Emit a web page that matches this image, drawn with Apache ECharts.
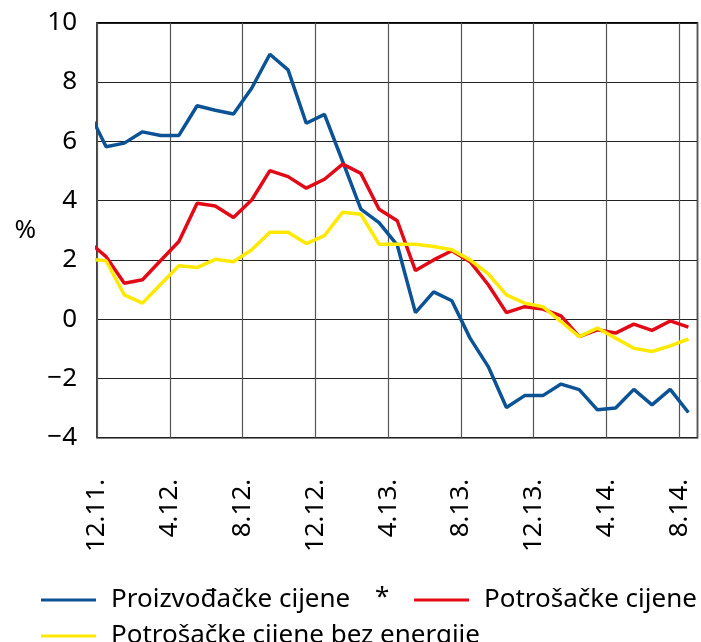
<!DOCTYPE html>
<html>
<head>
<meta charset="utf-8">
<script src="https://cdn.jsdelivr.net/npm/echarts@6/dist/echarts.min.js"></script>
<style>
  html, body { margin: 0; padding: 0; background: #fff; }
  #main { width: 701px; height: 642px; }
</style>
</head>
<body>
<div id="main"></div>
<script>
// mjeseci (prvi, 11.11., je izvan lijevog ruba i samo odrezan)
var months = ['11.11.', '12.11.', '1.12.', '2.12.', '3.12.', '4.12.', '5.12.', '6.12.', '7.12.', '8.12.',
  '9.12.', '10.12.', '11.12.', '12.12.', '1.13.', '2.13.', '3.13.', '4.13.', '5.13.', '6.13.',
  '7.13.', '8.13.', '9.13.', '10.13.', '11.13.', '12.13.', '1.14.', '2.14.', '3.14.', '4.14.',
  '5.14.', '6.14.', '7.14.', '8.14.'];

var proizvodjacke = [7.05, 5.82, 5.94, 6.32, 6.2, 6.2, 7.2, 7.05, 6.92, 7.79,
  8.94, 8.41, 6.61, 6.91, 5.32, 3.71, 3.26, 2.5, 0.22, 0.92,
  0.62, -0.64, -1.6, -2.98, -2.58, -2.58, -2.19, -2.38, -3.06, -3.0,
  -2.37, -2.89, -2.37, -3.15];

var potrosacke = [2.63, 2.11, 1.21, 1.33, 1.98, 2.62, 3.91, 3.82, 3.43, 4.02,
  5.01, 4.81, 4.42, 4.72, 5.23, 4.92, 3.71, 3.32, 1.64, 2.0,
  2.31, 1.94, 1.16, 0.22, 0.42, 0.34, 0.11, -0.59, -0.36, -0.47,
  -0.17, -0.38, -0.06, -0.27];

var bezEnergije = [2.03, 1.97, 0.82, 0.54, 1.18, 1.8, 1.74, 2.02, 1.94, 2.34,
  2.93, 2.93, 2.55, 2.82, 3.61, 3.54, 2.53, 2.53, 2.53, 2.45,
  2.34, 2.0, 1.53, 0.82, 0.54, 0.42, -0.08, -0.59, -0.3, -0.64,
  -0.98, -1.09, -0.9, -0.67];

var seriesNames = ['Proizvođačke cijene', 'Potrošačke cijene', 'Potrošačke cijene bez energije'];
var yTicks = [-4, -2, 0, 2, 4, 6, 8, 10];

var font = 'Noto Sans';

// točka mjeseca i je u sredini mjeseca: x = i - 0.5 (12.11. počinje na 0)
function toPoints(arr) {
  return arr.map(function (v, i) { return [i - 0.5, v]; });
}

function legendItem(name, left, top) {
  return {
    data: [name],
    left: left, top: top,
    icon: 'rect', itemWidth: 55, itemHeight: 3,
    textStyle: { fontFamily: font, fontSize: 26, color: '#000', padding: [0, 0, 0, 10] }
  };
}

var myChart = echarts.init(document.getElementById('main'));

myChart.setOption({
  animation: false,
  grid: {
    left: 97, right: 3.5, top: 22.8, bottom: 204.3,
    show: true, borderColor: '#000', borderWidth: 1.5
  },
  xAxis: {
    type: 'value',
    min: 0, max: 33, interval: 4,
    axisLine: { show: false },
    axisTick: { show: false },
    splitLine: { show: true, lineStyle: { color: '#555', width: 1.2 } },
    axisLabel: {
      rotate: 90,
      margin: 41,
      fontFamily: font,
      fontSize: 26,
      color: '#000',
      showMaxLabel: false,
      formatter: function (v) { return months[v + 1] || ''; }
    }
  },
  yAxis: {
    type: 'value',
    min: yTicks[0], max: yTicks[yTicks.length - 1], interval: 2,
    name: '%',
    nameLocation: 'middle',
    nameRotate: 0,
    nameGap: 61,
    nameTextStyle: { fontFamily: font, fontSize: 26, color: '#000' },
    axisLine: { show: false },
    axisTick: { show: false },
    splitLine: { show: true, lineStyle: { color: '#222', width: 1.2 } },
    axisLabel: {
      margin: 20,
      fontFamily: font,
      fontSize: 26,
      color: '#000',
      formatter: function (v) { return v < 0 ? '\u2212' + Math.abs(v) : String(v); }
    }
  },
  legend: [
    legendItem(seriesNames[0], 36, 582),
    legendItem(seriesNames[1], 409, 582),
    legendItem(seriesNames[2], 36, 618)
  ],
  graphic: [{
    type: 'text', left: 375, top: 585,
    style: { text: '*', fontFamily: font, fontSize: 26, fill: '#000' }
  }],
  series: [{
    name: seriesNames[0], type: 'line', data: toPoints(proizvodjacke),
    showSymbol: false, clip: true,
    lineStyle: { color: '#0B5394', width: 3.5 }, itemStyle: { color: '#0B5394' }
  }, {
    name: seriesNames[1], type: 'line', data: toPoints(potrosacke),
    showSymbol: false, clip: true,
    lineStyle: { color: '#E30A17', width: 3.5 }, itemStyle: { color: '#E30A17' }
  }, {
    name: seriesNames[2], type: 'line', data: toPoints(bezEnergije),
    showSymbol: false, clip: true,
    lineStyle: { color: '#FFE900', width: 3.5 }, itemStyle: { color: '#FFE900' }
  }]
});
</script>
</body>
</html>
